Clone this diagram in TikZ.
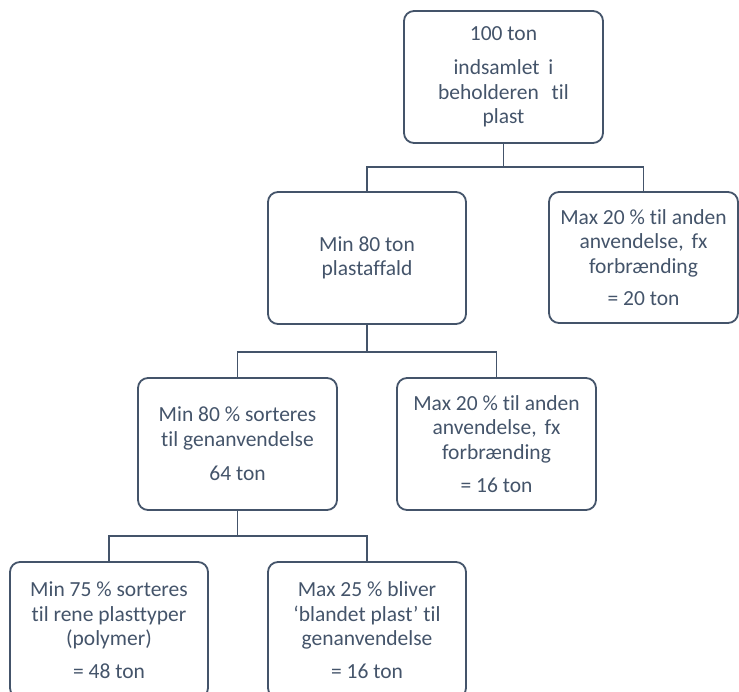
\documentclass[tikz,border=0pt]{standalone}
\usepackage{fontspec}
\setmainfont{Carlito}[Ligatures=NoCommon]
\definecolor{slate}{HTML}{44546A}
\begin{document}
\begin{tikzpicture}[x=1pt,y=-1pt,
  box/.style={draw=slate, line width=1.8pt, rounded corners=10pt, text=slate,
    align=center, inner sep=0pt, font=\fontsize{21.5}{24.5}\selectfont},
  link/.style={draw=slate, line width=1.8pt}]
\useasboundingbox (0,0) rectangle (739,691);
\clip (0,0) rectangle (739,691);
\node[box, minimum width=199pt, minimum height=132pt] (top) at (503.5,77)
  {100 ton\\[10pt] indsamlet\hspace{4pt} i\\ beholderen\hspace{8pt} til\\ plast};
\node[box, minimum width=198pt, minimum height=132pt] (min80) at (367,258)
  {Min 80 ton\\ plastaffald};
\node[box, minimum width=189pt, minimum height=131pt] (rt) at (643.5,257.5)
  {Max 20 \% til anden\\ anvendelse,\hspace{3pt} fx\\ forbrænding\\[8pt] = 20 ton};
\node[box, minimum width=199pt, minimum height=132pt] (sort) at (237.5,444)
  {Min 80 \% sorteres\\ til genanvendelse\\[10pt] 64 ton};
\node[box, minimum width=199pt, minimum height=132pt] (mid) at (496.5,444)
  {Max 20 \% til anden\\ anvendelse,\hspace{3pt} fx\\ forbrænding\\[9pt] = 16 ton};
\node[box, minimum width=198pt, minimum height=136pt] (bl) at (109,630)
  {Min 75 \% sorteres\\ til rene plasttyper\\ (polymer)\\[8pt] = 48 ton};
\node[box, minimum width=198pt, minimum height=136pt] (br) at (367,630)
  {Max 25 \% bliver\\ ‘blandet plast’ til\\ genanvendelse\\[8pt] = 16 ton};
\coordinate (j1) at (503.5,167);
\coordinate (j2) at (367,352);
\coordinate (j3) at (237.5,536);
\draw[link] (top.south) -- (j1);
\draw[link] (min80.north) |- (j1) -| (rt.north);
\draw[link] (min80.south) -- (j2);
\draw[link] (sort.north) |- (j2) -| (mid.north);
\draw[link] (sort.south) -- (j3);
\draw[link] (bl.north) |- (j3) -| (br.north);
\end{tikzpicture}
\end{document}
